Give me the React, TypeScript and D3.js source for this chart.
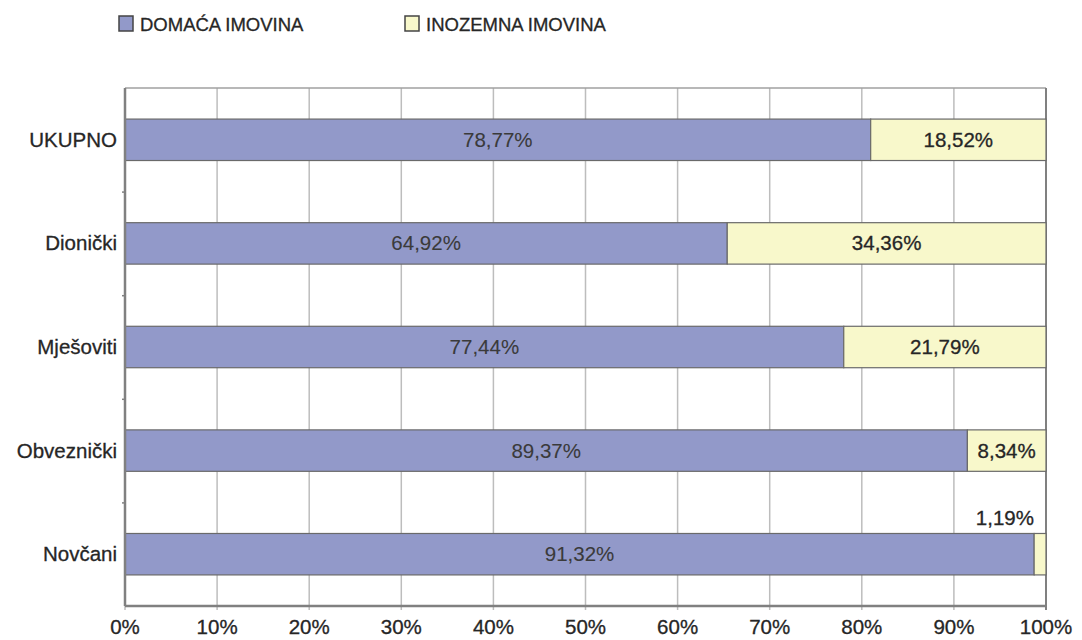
import React, { useRef, useEffect } from "react";
import * as d3 from "d3";

const categories = ["UKUPNO", "Dionički", "Mješoviti", "Obveznički", "Novčani"];
const domestic = [78.77, 64.92, 77.44, 89.37, 91.32];
const foreign = [18.52, 34.36, 21.79, 8.34, 1.19];
const seriesNames = ["DOMAĆA IMOVINA", "INOZEMNA IMOVINA"];
const xTicks = [0, 10, 20, 30, 40, 50, 60, 70, 80, 90, 100];

const BLUE = "#9299c9";
const YELLOW = "#f8f8cb";
const FONT = "'Liberation Sans', Arial, Helvetica, sans-serif";

const fmt = (v: number) => v.toFixed(2).replace(".", ",") + "%";

export default function App() {
  const svgRef = useRef<SVGSVGElement>(null);

  useEffect(() => {
    const width = 1082;
    const height = 640;
    const margin = { top: 88, right: 36, bottom: 34, left: 125 };
    const innerWidth = width - margin.left - margin.right;
    const innerHeight = height - margin.top - margin.bottom;

    const svg = d3.select(svgRef.current);
    svg.selectAll("*").remove();
    svg.attr("width", width).attr("height", height);

    // share of each part in the row total (100% stacked)
    const rows = categories.map((c, i) => {
      const total = domestic[i] + foreign[i];
      return { cat: c, dom: domestic[i], inoz: foreign[i], d: domestic[i] / total, f: foreign[i] / total };
    });

    const x = d3.scaleLinear().domain([0, 1]).range([0, innerWidth]);
    const y = d3.scaleBand().domain(categories).range([0, innerHeight]).paddingInner(0.6).paddingOuter(0.3);

    // slightly heavier text, the source looks like a thick Helvetica
    const txt = (sel: any, size: number, col: string, sw: number) =>
      sel.style("font-family", FONT)
        .style("font-size", size + "px")
        .attr("fill", col)
        .attr("stroke", col)
        .attr("stroke-width", sw)
        .attr("paint-order", "stroke");

    const g = svg.append("g").attr("transform", `translate(${margin.left},${margin.top})`);

    // vertical grid
    g.selectAll(".grid")
      .data(xTicks)
      .enter()
      .append("line")
      .attr("x1", d => x(d / 100))
      .attr("x2", d => x(d / 100))
      .attr("y1", 0)
      .attr("y2", innerHeight + 4)
      .attr("stroke", "#bdbdbd")
      .attr("stroke-width", 1.5);

    // top border
    g.append("line")
      .attr("x1", 0).attr("x2", innerWidth)
      .attr("y1", 0).attr("y2", 0)
      .attr("stroke", "#a0a0a0").attr("stroke-width", 1.5);

    // right border
    g.append("line")
      .attr("x1", innerWidth).attr("x2", innerWidth)
      .attr("y1", 0).attr("y2", innerHeight + 4)
      .attr("stroke", "#808080").attr("stroke-width", 2);

    // bars
    const bar = g.selectAll(".row").data(rows).enter().append("g");
    bar.append("rect")
      .attr("x", 0)
      .attr("y", d => y(d.cat)!)
      .attr("width", d => x(d.d))
      .attr("height", y.bandwidth())
      .attr("fill", BLUE)
      .attr("stroke", "#6a6a6a")
      .attr("stroke-width", 1.2);
    bar.append("rect")
      .attr("x", d => x(d.d))
      .attr("y", d => y(d.cat)!)
      .attr("width", d => x(d.f))
      .attr("height", y.bandwidth())
      .attr("fill", YELLOW)
      .attr("stroke", "#6a6a6a")
      .attr("stroke-width", 1.2);

    // value labels
    txt(bar.append("text")
      .attr("x", d => x(d.d / 2))
      .attr("y", d => y(d.cat)! + y.bandwidth() / 2 + 7)
      .attr("text-anchor", "middle")
      .text(d => fmt(d.dom)), 20.5, "#3a3a3a", 0.1);
    txt(bar.append("text")
      .attr("x", d => (d.f < 0.03 ? x(1) - 12 : x(d.d + d.f / 2)))
      .attr("y", d => (d.f < 0.03 ? y(d.cat)! - 8 : y(d.cat)! + y.bandwidth() / 2 + 7))
      .attr("text-anchor", d => (d.f < 0.03 ? "end" : "middle"))
      .text(d => fmt(d.inoz)), 20.5, "#262626", 0.3);

    // left axis
    const yAxis = g.append("g").call(
      d3.axisLeft(d3.scaleLinear().domain([0, categories.length]).range([0, innerHeight]))
        .tickValues(d3.range(1, categories.length))
        .tickSize(3)
        .tickFormat(() => "")
    );
    yAxis.select(".domain").remove();
    yAxis.selectAll("line").attr("stroke", "#808080").attr("stroke-width", 1.5);
    g.append("line")
      .attr("x1", 0).attr("x2", 0).attr("y1", 0).attr("y2", innerHeight)
      .attr("stroke", "#808080").attr("stroke-width", 2.5);

    // category labels
    txt(g.selectAll(".cat")
      .data(categories)
      .enter()
      .append("text")
      .attr("x", -8)
      .attr("y", d => y(d)! + y.bandwidth() / 2 + 7)
      .attr("text-anchor", "end")
      .text(d => d), 20.5, "#262626", 0.3);

    // bottom axis
    g.append("line")
      .attr("x1", 0).attr("x2", innerWidth).attr("y1", innerHeight).attr("y2", innerHeight)
      .attr("stroke", "#808080").attr("stroke-width", 2.5);
    txt(g.selectAll(".xt")
      .data(xTicks)
      .enter()
      .append("text")
      .attr("x", d => x(d / 100))
      .attr("y", innerHeight + 28)
      .attr("text-anchor", "middle")
      .text(d => d + "%"), 20.5, "#262626", 0.3);

    // legend
    const legX = [119, 405];
    const leg = svg.selectAll(".leg").data(seriesNames).enter().append("g")
      .attr("transform", (d, i) => `translate(${legX[i]},16)`);
    leg.append("rect")
      .attr("width", 14).attr("height", 15)
      .attr("fill", (d, i) => (i === 0 ? BLUE : YELLOW))
      .attr("stroke", "#444").attr("stroke-width", 1.5);
    txt(leg.append("text")
      .attr("x", 21).attr("y", 15)
      .text(d => d), 18.5, "#262626", 0.3);
  }, []);

  return <svg ref={svgRef} style={{ position: "absolute", left: 0, top: 0, display: "block" }}></svg>;
}
